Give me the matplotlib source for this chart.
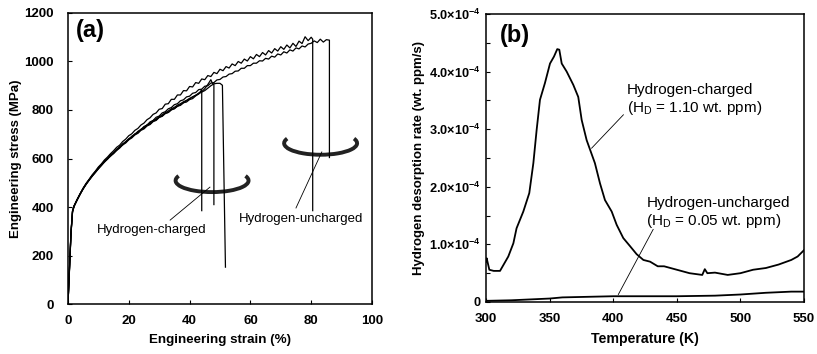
import matplotlib
matplotlib.use("Agg")
import matplotlib.pyplot as plt
from matplotlib.patches import Arc

plt.rcParams['font.family'] = ['Liberation Sans', 'DejaVu Sans']
plt.rcParams['mathtext.fontset'] = 'custom'
plt.rcParams['mathtext.rm'] = 'Liberation Sans'
plt.rcParams['mathtext.bf'] = 'Liberation Sans:bold'

# ---- (a) tensile curves: strain (%) and stress (MPa)
elastic_strain = [0, 0.5, 1, 1.5, 2, 3, 4]

unch1_strain = elastic_strain + list(range(5, 81)) + [80.5, 80.5]
unch1_stress = [0, 150, 300, 385, 405, 430, 455,
                478, 498, 515, 533, 548, 565, 578, 594, 606, 620,
                632, 646, 655, 670, 680, 694, 702, 716, 724, 738,
                746, 760, 768, 782, 788, 803, 806, 824, 826, 844,
                844, 862, 862, 880, 879, 897, 895, 913, 910, 928,
                925, 942, 938, 955, 950, 968, 962, 979, 973, 990,
                983, 1000, 993, 1010, 1002, 1020, 1011, 1029, 1020, 1037,
                1027, 1045, 1035, 1053, 1043, 1061, 1050, 1068, 1056, 1075,
                1062, 1084, 1074, 1102, 1086, 1100,
                1092, 385]

unch2_strain = elastic_strain + list(range(5, 87)) + [86]
unch2_stress = [0, 140, 290, 380, 402, 428, 452,
                476, 494, 512, 528, 544, 558, 574, 586, 600, 610,
                624, 634, 648, 656, 670, 678, 692, 699, 712, 719,
                732, 738, 751, 757, 770, 775, 788, 793, 805, 810,
                822, 826, 838, 842, 854, 857, 869, 872, 884, 886,
                898, 900, 911, 913, 924, 926, 936, 938, 948, 950,
                960, 961, 972, 972, 983, 983, 993, 993, 1003, 1002,
                1013, 1010, 1022, 1018, 1031, 1027, 1040, 1035, 1048, 1043,
                1056, 1052, 1064, 1060, 1072, 1075, 1085, 1078, 1092, 1080,
                1090, 1088,
                604]

ch1_strain = elastic_strain + list(range(5, 45)) + [44]
ch1_stress = [0, 150, 295, 382, 404, 430, 454,
              476, 496, 512, 530, 543, 560, 572, 588, 598, 614,
              622, 637, 645, 660, 667, 681, 687, 701, 706, 720,
              725, 738, 742, 755, 759, 771, 775, 787, 790, 802,
              805, 816, 819, 830, 833, 843, 847, 858, 866, 884,
              385]

ch2_strain = elastic_strain + list(range(5, 48)) + [47.5, 48, 48]
ch2_stress = [0, 145, 292, 380, 403, 429, 453,
              474, 494, 511, 527, 542, 557, 571, 585, 597, 610,
              620, 633, 643, 656, 664, 677, 685, 697, 704, 716,
              722, 734, 740, 752, 757, 769, 774, 785, 790, 800,
              806, 815, 822, 830, 838, 845, 854, 860, 870, 875,
              888, 905, 925,
              910, 905, 410]

ch3_strain = elastic_strain + list(range(5, 51)) + [50.8, 51.8]
ch3_stress = [0, 148, 294, 383, 404, 431, 455,
              477, 497, 514, 531, 546, 562, 575, 590, 601, 615,
              625, 638, 648, 660, 669, 681, 690, 701, 709, 720,
              728, 738, 746, 756, 763, 772, 780, 789, 796, 805,
              811, 820, 826, 834, 840, 848, 854, 861, 867, 874,
              880, 890, 900, 908, 910, 910,
              902, 152]

# ---- (b) TDS curves: temperature (K), desorption rate (x1e-4 wt. ppm/s)
ch_temp = [300, 300.5, 302.6, 306, 311, 317.5, 321.5, 324, 329.3, 334, 337.2,
           339.8, 342.4, 346.3, 350.3, 353.4, 356, 357.6, 359.5, 363.4, 368.6,
           372.5, 375.2, 379.1, 385.6, 389.6, 393.5, 398.8, 402.7, 407.9, 413.2,
           418.4, 423.7, 429, 435, 440, 450, 460, 470, 472, 474, 480, 490, 500,
           510, 520, 530, 540, 545, 550]
ch_rate = [0.70, 0.76, 0.56, 0.54, 0.54, 0.79, 1.02, 1.28, 1.57, 1.89, 2.41,
           2.99, 3.51, 3.80, 4.14, 4.26, 4.39, 4.38, 4.14, 4.00, 3.77,
           3.56, 3.16, 2.81, 2.41, 2.06, 1.77, 1.57, 1.34, 1.11, 0.97,
           0.83, 0.73, 0.70, 0.62, 0.62, 0.56, 0.50, 0.47, 0.57, 0.50, 0.51, 0.47, 0.50,
           0.56, 0.59, 0.65, 0.73, 0.79, 0.90]

unch_temp = [300, 320, 340, 350, 360, 380, 400, 450, 480, 500, 520, 540, 550]
unch_rate = [0.02, 0.03, 0.05, 0.06, 0.08, 0.09, 0.10, 0.10, 0.11, 0.13, 0.16, 0.18, 0.18]

rate_ticks = [0, 1, 2, 3, 4, 5]
rate_labels = ['0'] + ['%.1f\u00d710$^{\\mathbf{-4}}$' % v for v in rate_ticks[1:]]

fig = plt.figure(figsize=(8.17, 3.54), dpi=100)
ax1 = fig.add_axes([0.0832, 0.1412, 0.3721, 0.8221])
ax2 = fig.add_axes([0.5949, 0.1469, 0.3892, 0.8136])

for s, t in [(unch1_strain, unch1_stress), (unch2_strain, unch2_stress),
             (ch1_strain, ch1_stress), (ch2_strain, ch2_stress),
             (ch3_strain, ch3_stress)]:
    ax1.plot(s, t, color='black', lw=0.9)

# split-ring markers
ax1.add_patch(Arc((47.4, 509), 24, 95, theta1=120, theta2=420, color='#222222', lw=2.8))
ax1.add_patch(Arc((83.1, 663), 24, 95, theta1=120, theta2=420, color='#222222', lw=2.8))

ax1.text(9.5, 305, 'Hydrogen-charged', fontsize=9.5, va='center', ha='left')
ax1.plot([33.6, 46.7], [346, 482], color='black', lw=0.6)
ax1.text(56.2, 350, 'Hydrogen-uncharged', fontsize=9.5, va='center', ha='left')
ax1.plot([75, 83.5], [396, 627], color='black', lw=0.6)
ax1.text(2.5, 1128, '(a)', fontsize=17, fontweight='bold', va='center')

ax1.set_xlim(0, 100)
ax1.set_ylim(0, 1200)
ax1.set_xticks(range(0, 101, 20))
ax1.set_yticks(range(0, 1201, 200))
ax1.set_xlabel('Engineering strain (%)', fontsize=9.6, fontweight='bold', labelpad=5)
ax1.set_ylabel('Engineering stress (MPa)', fontsize=9.5, fontweight='bold', labelpad=2)

ax2.plot(ch_temp, ch_rate, color='black', lw=1.3)
ax2.plot(unch_temp, unch_rate, color='black', lw=1.3)
ax2.text(411, 3.5, 'Hydrogen-charged\n(H$_\\mathregular{D}$ = 1.10 wt. ppm)', fontsize=11,
         va='center', ha='left', linespacing=1.15)
ax2.plot([408, 383], [3.25, 2.67], color='black', lw=0.6)
ax2.text(426, 1.55, 'Hydrogen-uncharged\n(H$_\\mathregular{D}$ = 0.05 wt. ppm)', fontsize=11,
         va='center', ha='left', linespacing=1.15)
ax2.plot([431.4, 404], [1.26, 0.13], color='black', lw=0.6)
ax2.text(311, 4.62, '(b)', fontsize=17, fontweight='bold', va='center')

ax2.set_xlim(300, 550)
ax2.set_ylim(0, 5)
ax2.set_xticks(range(300, 551, 50))
ax2.set_yticks(rate_ticks)
ax2.set_yticklabels(rate_labels)
ax2.set_yticks([0.5, 1.5, 2.5, 3.5, 4.5], minor=True)
ax2.set_xlabel('Temperature (K)', fontsize=10.2, fontweight='bold', labelpad=5)
ax2.set_ylabel('Hydrogen desorption rate (wt. ppm/s)', fontsize=9.5, fontweight='bold', labelpad=3)

for ax in (ax1, ax2):
    for sp in ax.spines.values():
        sp.set_linewidth(1.1)
    ax.tick_params(direction='in', length=3, width=0.8, labelsize=9.5)
    ax.tick_params(axis='x', pad=8)
    ax.tick_params(which='minor', direction='in', length=3, width=0.8)
    for lab in ax.get_xticklabels() + ax.get_yticklabels():
        lab.set_fontweight('bold')
ax1.tick_params(axis='y', pad=10)
ax2.tick_params(axis='y', labelsize=9.2, pad=4)

fig.savefig('out.png', dpi=100)
